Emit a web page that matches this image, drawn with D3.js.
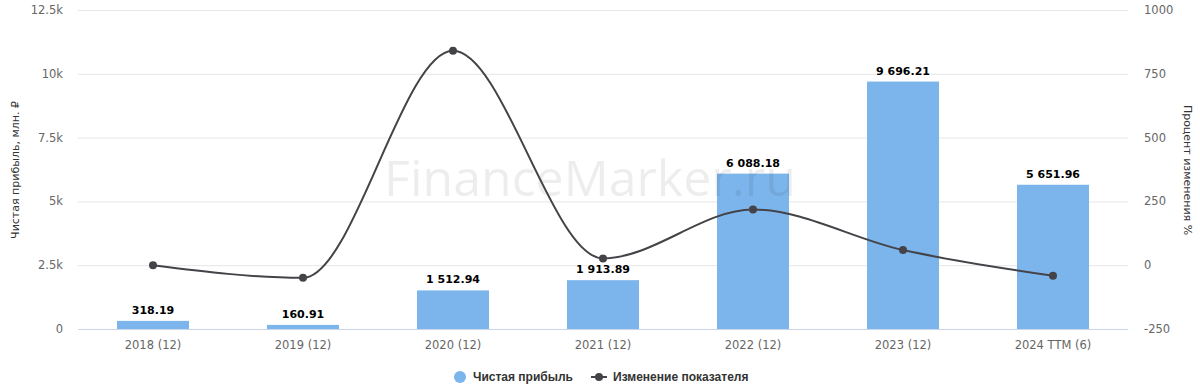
<!DOCTYPE html>
<html>
<head>
<meta charset="utf-8">
<script src="https://cdn.jsdelivr.net/npm/d3@7"></script>
<style>
  body { margin: 0; background: #fff; }
  svg { display: block; font-family: "DejaVu Sans", sans-serif; }
</style>
</head>
<body>
<div id="chart"></div>
<script>
// data
var categories = ["2018 (12)", "2019 (12)", "2020 (12)", "2021 (12)", "2022 (12)", "2023 (12)", "2024 TTM (6)"];
var profit = [318.19, 160.91, 1512.94, 1913.89, 6088.18, 9696.21, 5651.96];
var change = [0, -49.43, 840.23, 26.50, 218.10, 59.26, -41.71];
var leftTicks = [0, 2500, 5000, 7500, 10000, 12500];
var rightTicks = [-250, 0, 250, 500, 750, 1000];

var width = 1200, height = 391;
var plotLeft = 78, plotRight = 1128, plotTop = 10, plotBottom = 329;

var svg = d3.select("#chart").append("svg")
    .attr("width", width)
    .attr("height", height);

var x = d3.scaleBand().domain(categories).range([plotLeft, plotRight])
    .paddingInner(0.52).paddingOuter(0.26);
var y = d3.scaleLinear().domain([0, 12500]).range([plotBottom, plotTop]);
var y2 = d3.scaleLinear().domain([-250, 1000]).range([plotBottom, plotTop]);

function fmtK(v) {
    if (v === 0) return "0";
    return (v / 1000) + "k";
}
function fmtNum(v) {
    var s = v.toFixed(2).split(".");
    return s[0].replace(/\B(?=(\d{3})+(?!\d))/g, " ") + "." + s[1];
}

// grid
svg.append("g").selectAll("line")
    .data(leftTicks.slice(1))
    .enter().append("line")
    .attr("x1", plotLeft).attr("x2", plotRight)
    .attr("y1", function(d) { return y(d) + 0.5; })
    .attr("y2", function(d) { return y(d) + 0.5; })
    .attr("stroke", "#e6e6e6");

// left axis labels
svg.append("g").selectAll("text")
    .data(leftTicks)
    .enter().append("text")
    .attr("x", 63)
    .attr("y", function(d) { return y(d) + 4; })
    .attr("text-anchor", "end")
    .attr("fill", "#666")
    .style("font-size", "11.5px")
    .text(fmtK);

// right axis labels
svg.append("g").selectAll("text")
    .data(rightTicks)
    .enter().append("text")
    .attr("x", 1144)
    .attr("y", function(d) { return y2(d) + 4; })
    .attr("fill", "#666")
    .style("font-size", "11.5px")
    .text(function(d) { return d; });

// axis titles
svg.append("text")
    .attr("transform", "translate(19,170) rotate(-90)")
    .attr("text-anchor", "middle")
    .attr("fill", "#333")
    .style("font-size", "11px")
    .text("Чистая прибыль, млн. ₽");

svg.append("text")
    .attr("transform", "translate(1184,170) rotate(90)")
    .attr("text-anchor", "middle")
    .attr("fill", "#333")
    .style("font-size", "11px")
    .text("Процент изменения %");

// bars
svg.append("g").selectAll("rect")
    .data(profit)
    .enter().append("rect")
    .attr("x", function(d, i) { return x(categories[i]); })
    .attr("y", function(d) { return y(d); })
    .attr("width", x.bandwidth())
    .attr("height", function(d) { return y(0) - y(d); })
    .attr("fill", "#7cb5ec");

// watermark, semi-transparent over the bars
svg.append("text")
    .attr("x", 590).attr("y", 196)
    .attr("text-anchor", "middle")
    .style("font-family", "'Open Sans', sans-serif")
    .style("font-size", "50px")
    .attr("fill", "#000")
    .attr("fill-opacity", 0.07)
    .text("FinanceMarker.ru");

// baseline
svg.append("line")
    .attr("x1", plotLeft).attr("x2", plotRight)
    .attr("y1", plotBottom + 0.5).attr("y2", plotBottom + 0.5)
    .attr("stroke", "#ccd6eb");

// x labels
svg.append("g").selectAll("text")
    .data(categories)
    .enter().append("text")
    .attr("x", function(d) { return x(d) + x.bandwidth() / 2; })
    .attr("y", 349)
    .attr("text-anchor", "middle")
    .attr("fill", "#666")
    .style("font-size", "11.5px")
    .text(function(d) { return d; });

// line
var line = d3.line()
    .x(function(d, i) { return x(categories[i]) + x.bandwidth() / 2; })
    .y(function(d) { return y2(d); })
    .curve(d3.curveMonotoneX);

svg.append("path")
    .datum(change)
    .attr("d", line)
    .attr("fill", "none")
    .attr("stroke", "#434348")
    .attr("stroke-width", 2);

svg.append("g").selectAll("circle")
    .data(change)
    .enter().append("circle")
    .attr("cx", function(d, i) { return x(categories[i]) + x.bandwidth() / 2; })
    .attr("cy", function(d) { return y2(d); })
    .attr("r", 4)
    .attr("fill", "#434348");

// bar labels
svg.append("g").selectAll("text")
    .data(profit)
    .enter().append("text")
    .attr("x", function(d, i) { return x(categories[i]) + x.bandwidth() / 2; })
    .attr("y", function(d) { return y(d) - 7; })
    .attr("text-anchor", "middle")
    .attr("fill", "#000")
    .attr("stroke", "#fff")
    .attr("stroke-width", 2)
    .attr("paint-order", "stroke")
    .style("font-size", "11px")
    .style("font-weight", "bold")
    .text(fmtNum);

// legend
var lg = svg.append("g")
    .style("font-family", "'Liberation Sans', sans-serif")
    .style("font-size", "12px").style("font-weight", "bold");
lg.append("circle").attr("cx", 460).attr("cy", 377).attr("r", 6).attr("fill", "#7cb5ec");
lg.append("text").attr("x", 473).attr("y", 381).attr("fill", "#333").text("Чистая прибыль");
lg.append("line").attr("x1", 591).attr("x2", 607).attr("y1", 377).attr("y2", 377)
    .attr("stroke", "#434348").attr("stroke-width", 2);
lg.append("circle").attr("cx", 599).attr("cy", 377).attr("r", 4).attr("fill", "#434348");
lg.append("text").attr("x", 613).attr("y", 381).attr("fill", "#333").text("Изменение показателя");
</script>
</body>
</html>
